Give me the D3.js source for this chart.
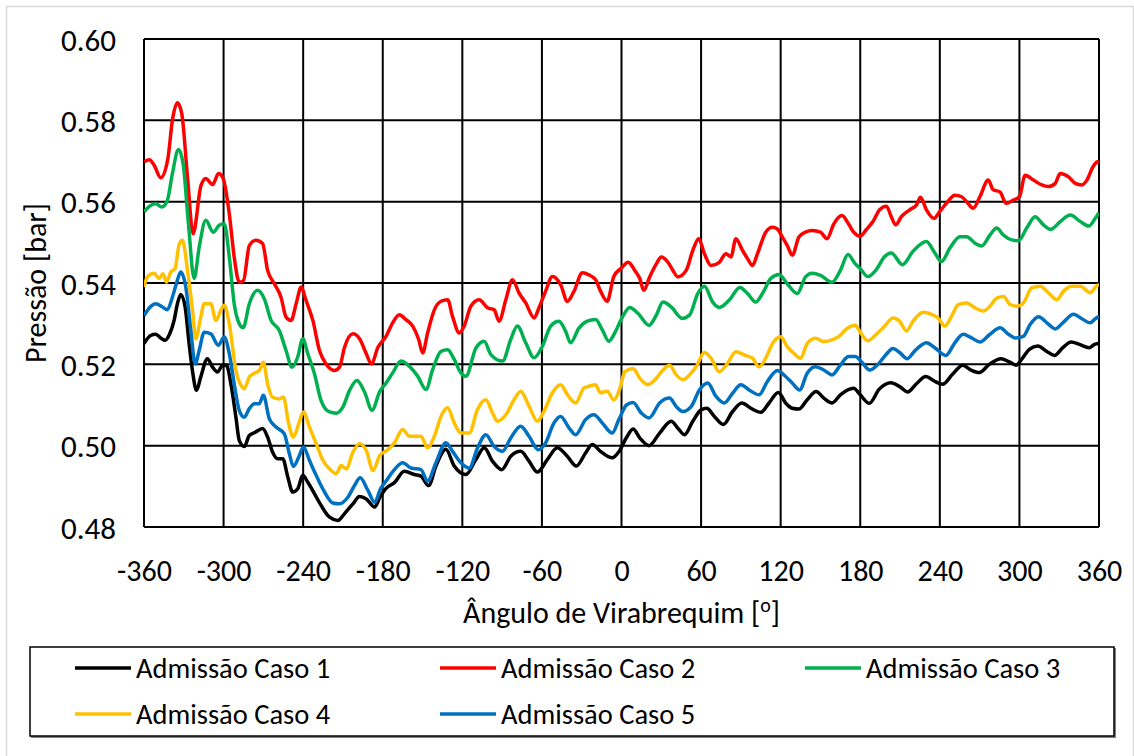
<!DOCTYPE html>
<html>
<head>
<meta charset="utf-8">
<script src="https://cdn.jsdelivr.net/npm/d3@7"></script>
<style>
  body { margin: 0; background: #fff; }
  text { font-family: Carlito, Lato, "Open Sans", sans-serif; fill: #000; }
</style>
</head>
<body>
<svg id="chart" width="1134" height="756"></svg>
<script>
// Axis ticks
const xTicks = [-360, -300, -240, -180, -120, -60, 0, 60, 120, 180, 240, 300, 360];
const yTicks = [0.48, 0.50, 0.52, 0.54, 0.56, 0.58, 0.60];

const seriesNames = ["Admissão Caso 1", "Admissão Caso 2", "Admissão Caso 3", "Admissão Caso 4", "Admissão Caso 5"];
const seriesColors = ["#000000", "#FF0000", "#00B050", "#FFC000", "#0070C0"];

// [crank angle (deg), pressure (bar)]
const caso1 = [[-360,0.5251],[-355,0.5271],[-351.2,0.5274],[-347.4,0.5265],[-344.1,0.5259],[-340.6,0.5275],[-337.3,0.5308],[-334.8,0.5349],[-332.3,0.5372],[-329,0.5341],[-326,0.5251],[-323.5,0.5185],[-320.4,0.5136],[-317.2,0.5169],[-312.2,0.5214],[-308.3,0.5193],[-304.6,0.5181],[-300.8,0.5197],[-297.8,0.5197],[-294.5,0.5152],[-290.7,0.507],[-288.2,0.5013],[-284.4,0.4998],[-280.6,0.5025],[-276.1,0.5033],[-270.6,0.5042],[-266.8,0.5021],[-263,0.4984],[-259.2,0.4968],[-255.4,0.4968],[-251.6,0.4923],[-247.9,0.4886],[-244.1,0.4894],[-240.3,0.4927],[-236.5,0.491],[-231.5,0.4882],[-226.5,0.4853],[-220.1,0.4824],[-213.8,0.4816],[-208.8,0.4833],[-202.5,0.4857],[-197.5,0.4875],[-192.4,0.4869],[-186.1,0.4849],[-182.3,0.4872],[-177.5,0.4895],[-171.2,0.4909],[-163.7,0.4937],[-156.2,0.4929],[-151.2,0.4925],[-145.4,0.4902],[-139.9,0.495],[-132.4,0.4991],[-126.1,0.495],[-117.3,0.4929],[-109.8,0.4966],[-103.5,0.4995],[-97.3,0.4962],[-90.2,0.4941],[-83.5,0.4974],[-76,0.4986],[-69.7,0.4962],[-63.4,0.4935],[-55.9,0.4966],[-48.4,0.4995],[-40.9,0.4974],[-34.1,0.495],[-27.1,0.4982],[-22.1,0.5003],[-15.8,0.4986],[-7,0.497],[-2,0.4985],[3.75,0.502],[8.75,0.5041],[13.75,0.5019],[20.75,0.5],[28.75,0.5031],[37.5,0.506],[42.5,0.5043],[47.5,0.5027],[53.75,0.506],[60,0.5088],[64.25,0.5092],[70,0.5072],[76.75,0.5052],[83.75,0.5084],[90.75,0.5105],[97.5,0.5092],[105,0.5082],[111.25,0.5105],[118.25,0.5131],[123.75,0.5105],[128.75,0.5092],[133.75,0.509],[140,0.5113],[146.75,0.5133],[152.5,0.5117],[158.75,0.5105],[165,0.5125],[175,0.5141],[180,0.5125],[186.8,0.5104],[194.3,0.5139],[203.1,0.5155],[210.7,0.5143],[215.7,0.5132],[222,0.5151],[229.5,0.517],[235.8,0.5159],[242.1,0.5151],[249.7,0.5176],[257.2,0.5198],[263.5,0.5186],[269.8,0.518],[277.3,0.52],[286.1,0.5214],[292.4,0.5206],[297.5,0.5198],[302.5,0.5216],[307.5,0.5237],[313.8,0.5245],[320.1,0.5233],[326.4,0.5222],[332.7,0.5241],[339,0.5255],[345.2,0.5249],[352.8,0.5241],[356.6,0.5249],[360,0.5252]];

const caso2 = [[-360,0.5698],[-356,0.5703],[-352.4,0.569],[-347.4,0.5659],[-342,0.5706],[-338.6,0.58],[-334.8,0.5843],[-331.5,0.5816],[-327.2,0.566],[-323,0.5521],[-317,0.564],[-313.4,0.5657],[-308.3,0.5642],[-303.8,0.5669],[-300.3,0.5657],[-295.7,0.557],[-292,0.5464],[-288.2,0.5402],[-285,0.5406],[-280.6,0.5492],[-275.6,0.5505],[-270.6,0.5497],[-266.8,0.5431],[-261.7,0.5398],[-256.7,0.5365],[-252.9,0.5316],[-249.1,0.5308],[-245.3,0.5349],[-241.5,0.539],[-237.8,0.5357],[-232.7,0.5308],[-227.7,0.5234],[-222.7,0.5201],[-216.4,0.5185],[-212.6,0.5193],[-208.8,0.5242],[-202.5,0.5275],[-197.5,0.5263],[-192.4,0.5226],[-188.6,0.5201],[-183.6,0.5242],[-177.5,0.5269],[-172.5,0.5302],[-167.5,0.5322],[-162.5,0.531],[-157.4,0.5294],[-152.9,0.5261],[-149.9,0.5228],[-146.2,0.5277],[-141.1,0.5334],[-136.1,0.5355],[-131.1,0.5359],[-127.4,0.5318],[-122.3,0.5277],[-118.6,0.5294],[-113.6,0.5343],[-107.3,0.5359],[-101,0.5339],[-96,0.5334],[-92.3,0.5306],[-87.2,0.5359],[-82.2,0.5408],[-77.2,0.5375],[-72.2,0.5351],[-65.9,0.5314],[-62.2,0.5339],[-57.2,0.538],[-52.1,0.5416],[-45.9,0.5396],[-40.8,0.5355],[-35.8,0.538],[-29.5,0.5425],[-24.6,0.542],[-19.5,0.5408],[-15.8,0.538],[-10.8,0.5355],[-5.8,0.5416],[0,0.5437],[5,0.5451],[10,0.5431],[13.75,0.5411],[16.75,0.5382],[21.25,0.5415],[26.25,0.5447],[30,0.5464],[35,0.5451],[38.75,0.5431],[42.5,0.5415],[48.75,0.5431],[53.75,0.548],[58.25,0.5509],[62.5,0.5472],[67.5,0.5443],[73.75,0.5451],[78.75,0.5472],[82.5,0.5464],[86.25,0.5509],[91.25,0.548],[95,0.546],[98.75,0.5443],[102.5,0.5472],[108.75,0.5525],[113.75,0.5537],[117.5,0.5533],[121.25,0.5513],[125,0.5492],[128.75,0.5468],[133.75,0.5513],[138.75,0.5525],[143.75,0.5529],[150,0.5525],[155,0.5509],[160,0.5545],[166.25,0.5566],[171.25,0.5545],[175,0.5525],[180,0.5515],[184.5,0.5531],[189.6,0.5551],[194.6,0.558],[199.7,0.5589],[203.4,0.5563],[206.7,0.5543],[211,0.5563],[217.3,0.558],[222.4,0.5592],[225.4,0.5611],[229.9,0.558],[235.5,0.5559],[240,0.5576],[245,0.5596],[251.3,0.5616],[256.4,0.5612],[260.2,0.56],[265.2,0.5584],[270.2,0.5612],[276.5,0.5653],[280.3,0.5629],[285.4,0.5624],[289.9,0.5596],[295.5,0.5604],[300,0.5612],[304.3,0.5665],[310.6,0.5653],[316.9,0.5641],[321.9,0.5637],[327,0.5645],[330.7,0.5669],[337,0.5661],[342.1,0.5645],[347.1,0.5641],[350.9,0.5653],[355.5,0.5686],[359,0.5698],[360,0.5694]];

const caso3 = [[-360,0.5575],[-356.2,0.5588],[-351.2,0.5595],[-346.6,0.5587],[-342.4,0.5603],[-338.6,0.5669],[-334,0.5728],[-330.5,0.5693],[-326.5,0.5546],[-322.2,0.5411],[-318.4,0.5488],[-313.4,0.5554],[-307.8,0.5525],[-303.3,0.5542],[-299.5,0.5546],[-295.7,0.5464],[-292,0.5349],[-288.2,0.53],[-285.2,0.529],[-280.6,0.5349],[-274.3,0.5382],[-269.3,0.5361],[-264.2,0.5308],[-258,0.5283],[-252.9,0.5234],[-248.4,0.5193],[-244.1,0.5218],[-240.3,0.5263],[-236.5,0.5226],[-231.5,0.5177],[-226.5,0.5111],[-220.1,0.5083],[-215.1,0.508],[-210.1,0.5095],[-205,0.5136],[-199.5,0.516],[-193.7,0.5132],[-188.1,0.5087],[-182.3,0.5133],[-177.5,0.5154],[-172.5,0.5179],[-166.2,0.5208],[-159.9,0.5195],[-153.7,0.5171],[-147.4,0.5138],[-142.4,0.5187],[-136.1,0.5232],[-131.1,0.5236],[-126.1,0.5212],[-121.1,0.5179],[-117.3,0.5171],[-109.8,0.524],[-103.5,0.5257],[-98.5,0.5224],[-89.7,0.5208],[-83.5,0.5261],[-78.5,0.5294],[-72.2,0.5253],[-65.9,0.5216],[-59.7,0.5244],[-53.4,0.5294],[-47.1,0.5306],[-42.1,0.5281],[-38.4,0.5253],[-32.1,0.5289],[-25.8,0.5306],[-19.6,0.531],[-14.5,0.5285],[-9.5,0.5257],[-4.5,0.5281],[0,0.5312],[6.25,0.534],[12.5,0.5325],[20.75,0.5296],[26.25,0.5321],[31.25,0.5353],[37.5,0.5341],[45.75,0.5313],[51.25,0.5321],[57.5,0.5374],[62.5,0.5392],[68.75,0.5353],[73.75,0.534],[81.25,0.5358],[89.25,0.5389],[95,0.5374],[101.25,0.5353],[106.25,0.5374],[112.5,0.5411],[118.75,0.5421],[125,0.5398],[132.5,0.5374],[138.75,0.5415],[143.75,0.5424],[150,0.5419],[158.75,0.5402],[165,0.5431],[170.75,0.547],[176.25,0.5447],[180,0.5435],[185.8,0.5416],[192.1,0.5433],[198.4,0.5465],[203.4,0.5474],[211.8,0.5445],[219.8,0.5478],[229.9,0.5502],[236.2,0.5474],[241.3,0.5453],[247.6,0.5486],[255.1,0.5514],[260.2,0.5514],[266.5,0.5498],[271.5,0.5491],[277.8,0.5518],[282.9,0.5535],[287.9,0.5518],[294.2,0.5506],[299.2,0.5504],[305.5,0.5535],[311.8,0.5563],[318.1,0.5543],[323.7,0.5532],[330.8,0.5551],[338.3,0.5567],[345.9,0.5551],[352.2,0.554],[357.2,0.5559],[360,0.5573]];

const caso4 = [[-360,0.539],[-357.5,0.5415],[-352.4,0.5424],[-348.7,0.5411],[-345.6,0.5423],[-343.1,0.5402],[-339.8,0.5427],[-336.6,0.5435],[-333.5,0.5495],[-331,0.5505],[-327.2,0.5431],[-323.4,0.5333],[-321,0.5263],[-317.2,0.5316],[-314.6,0.5349],[-309.6,0.5349],[-305.8,0.5308],[-302,0.5333],[-299.5,0.5345],[-295.7,0.53],[-290.7,0.5185],[-286.9,0.5148],[-284.4,0.514],[-280.6,0.5169],[-276.8,0.5178],[-273.1,0.5185],[-270,0.5205],[-266.8,0.5152],[-263,0.5119],[-258,0.5115],[-254.9,0.5119],[-250.9,0.5054],[-247.4,0.5021],[-243.3,0.5054],[-239.8,0.5083],[-235.3,0.5046],[-230.2,0.5005],[-225.2,0.4964],[-218.9,0.4939],[-215.1,0.4931],[-211.3,0.4951],[-207.5,0.4943],[-202.5,0.4984],[-197.5,0.5005],[-192.4,0.4988],[-187.4,0.4939],[-182.3,0.4975],[-176.2,0.499],[-171.2,0.5007],[-165,0.504],[-159.9,0.5023],[-154.9,0.5023],[-151.2,0.5023],[-146.2,0.4995],[-141.1,0.5023],[-136.1,0.5072],[-131.1,0.5093],[-126.1,0.5056],[-121.1,0.5031],[-114.8,0.5031],[-108.6,0.5089],[-102.3,0.5113],[-97.3,0.5081],[-93.5,0.506],[-87.2,0.5076],[-81,0.5113],[-76,0.5134],[-69.7,0.5097],[-63.4,0.506],[-58.4,0.5085],[-52.1,0.513],[-45.9,0.515],[-40.9,0.5126],[-34.6,0.5105],[-28.3,0.5142],[-24.6,0.5146],[-19.6,0.515],[-15.8,0.513],[-10.8,0.5134],[-5.8,0.5113],[-1,0.5143],[2.5,0.5182],[8.75,0.519],[13.75,0.5166],[20,0.515],[26.25,0.5166],[31.25,0.5186],[36.25,0.5198],[41.25,0.5174],[46.25,0.5162],[51.25,0.5174],[56.25,0.5194],[62.5,0.5229],[67.5,0.5215],[73.75,0.5182],[80,0.5203],[86.25,0.5231],[92.5,0.5223],[98.75,0.5215],[103.75,0.5194],[108.75,0.5215],[113.75,0.5251],[120,0.5268],[125,0.5243],[130,0.5227],[135,0.5215],[140,0.5251],[146.25,0.5264],[152.5,0.5256],[158.75,0.526],[163.75,0.5268],[170,0.5288],[176.25,0.5296],[180,0.5279],[185.8,0.5258],[192.1,0.5274],[198.4,0.5294],[204.7,0.5314],[209.7,0.5306],[214.8,0.5282],[219.8,0.5306],[227.4,0.5328],[233.7,0.5323],[238.7,0.5314],[243.8,0.5294],[248.8,0.5318],[253.9,0.5347],[260.2,0.5351],[266.5,0.5339],[272.8,0.5331],[277.8,0.5343],[282.9,0.5363],[287.9,0.5367],[293,0.5347],[298,0.5343],[303,0.5351],[309.3,0.5388],[315.6,0.5392],[321.9,0.5376],[328.2,0.5359],[333.3,0.538],[339.6,0.5392],[345.9,0.5392],[353.4,0.5376],[358.5,0.5394],[360,0.5396]];

const caso5 = [[-360,0.532],[-355,0.5342],[-351.2,0.5349],[-346.1,0.5341],[-342.4,0.5334],[-338.6,0.5365],[-335.6,0.5398],[-332.3,0.5427],[-328.5,0.539],[-324.7,0.5283],[-321.4,0.5201],[-318.4,0.5234],[-314.6,0.5279],[-309.6,0.5275],[-304,0.5247],[-299.5,0.5267],[-295.7,0.5226],[-292,0.5152],[-288.2,0.5087],[-284.4,0.507],[-280.6,0.5091],[-276.8,0.5103],[-273.1,0.5103],[-270,0.5124],[-265.5,0.5066],[-260.5,0.5046],[-254.2,0.5029],[-250.4,0.498],[-247.4,0.4949],[-243.3,0.4972],[-239.8,0.4997],[-235.3,0.4964],[-230.2,0.4927],[-223.9,0.4886],[-217.6,0.4859],[-212.6,0.4857],[-206.3,0.4873],[-201.3,0.4902],[-197,0.4921],[-191.2,0.489],[-186.1,0.4861],[-181.5,0.4895],[-177.5,0.4913],[-171.2,0.4941],[-165,0.4958],[-158.7,0.4945],[-151.2,0.4941],[-146.2,0.4913],[-139.9,0.4958],[-132.4,0.5007],[-127.4,0.4986],[-121.1,0.4958],[-114.8,0.4945],[-108.6,0.4994],[-102.3,0.5027],[-96,0.4998],[-89.7,0.4986],[-83.5,0.5019],[-76,0.5048],[-69.7,0.5023],[-62.7,0.499],[-57.2,0.5007],[-50.9,0.5056],[-45.9,0.5072],[-39.6,0.5044],[-34.6,0.5027],[-27.1,0.5064],[-20.8,0.5076],[-14.5,0.5056],[-7,0.5031],[-2,0.5064],[3.75,0.51],[8.75,0.5106],[15,0.508],[20.75,0.5068],[28.75,0.5105],[36.25,0.5117],[41.25,0.5096],[46.25,0.5084],[52.5,0.5096],[58.75,0.5137],[65,0.5154],[71.25,0.5121],[77.5,0.5105],[83.75,0.5129],[90,0.515],[96.25,0.5137],[103.75,0.5125],[110,0.5158],[117.5,0.5185],[123.75,0.517],[128.75,0.5154],[134.25,0.5137],[140,0.5178],[146.25,0.5194],[152.5,0.5186],[158.75,0.5174],[165,0.5198],[171.25,0.5219],[176.25,0.5219],[181.25,0.5205],[187.1,0.5186],[193.4,0.52],[199.7,0.5225],[204.7,0.5239],[209.7,0.5229],[215.5,0.5214],[221.1,0.5233],[229.9,0.5253],[236.2,0.5241],[244.5,0.5222],[251.3,0.5253],[257.6,0.5274],[263.9,0.5265],[270.3,0.5255],[277.8,0.5274],[285.4,0.529],[291.7,0.5274],[296.7,0.5265],[303,0.5269],[308.1,0.5298],[314.4,0.5317],[320.7,0.5302],[327,0.5287],[333.3,0.5304],[340.8,0.5323],[347.1,0.5312],[353.4,0.5302],[357.2,0.5312],[360,0.5318]];

const seriesData = [caso1, caso2, caso3, caso4, caso5];

const svg = d3.select("#chart");
const width = 1134, height = 756;
const plot = { left: 144, right: 1099, top: 39, bottom: 527 };

// Outer chart frame (light grey, like the Excel chart area)
svg.append("rect")
  .attr("x", 6.5).attr("y", 6.5)
  .attr("width", width - 7).attr("height", height - 5)
  .attr("fill", "#fff")
  .attr("stroke", "#D9D9D9")
  .attr("stroke-width", 1.5);

const x = d3.scaleLinear().domain([-360, 360]).range([plot.left, plot.right]);
const y = d3.scaleLinear().domain([0.48, 0.60]).range([plot.bottom, plot.top]);

// Grid lines
const grid = svg.append("g").attr("class", "grid");
grid.selectAll(".vgrid")
  .data(xTicks)
  .enter()
  .append("line")
  .attr("x1", (d) => x(d)).attr("x2", (d) => x(d))
  .attr("y1", plot.top).attr("y2", plot.bottom)
  .attr("stroke", "#000")
  .attr("stroke-width", 2);
grid.selectAll(".hgrid")
  .data(yTicks)
  .enter()
  .append("line")
  .attr("x1", plot.left).attr("x2", plot.right)
  .attr("y1", (d) => y(d)).attr("y2", (d) => y(d))
  .attr("stroke", "#000")
  .attr("stroke-width", 2);

// Axes (labels only, Excel style) - plain hyphen for negatives
const xAxis = svg.append("g")
  .attr("transform", "translate(0,581)")
  .call(d3.axisBottom(x).tickValues(xTicks).tickSize(0).tickFormat((d) => String(d)));
xAxis.select(".domain").remove();
xAxis.selectAll("text")
  .attr("y", 0)
  .attr("dy", 0)
  .style("font-size", "30px")
  .style("font-family", "Carlito, Lato, sans-serif")
  .attr("fill", "#000");

const yAxis = svg.append("g")
  .attr("transform", `translate(${plot.left - 28},0)`)
  .call(d3.axisLeft(y).tickValues(yTicks).tickSize(0).tickFormat(d3.format(".2f")));
yAxis.select(".domain").remove();
yAxis.selectAll("text")
  .attr("x", 0)
  .attr("dy", "0.36em")
  .style("font-size", "31px")
  .style("font-family", "Carlito, Lato, sans-serif")
  .attr("fill", "#000");

// Axis titles
svg.append("text")
  .attr("transform", `translate(46,${(plot.top + plot.bottom) / 2}) rotate(-90)`)
  .attr("text-anchor", "middle")
  .attr("font-size", "30px")
  .text("Pressão [bar]");

const xTitle = svg.append("text")
  .attr("x", (plot.left + plot.right) / 2)
  .attr("y", 623)
  .attr("text-anchor", "middle")
  .attr("font-size", "30px");
xTitle.append("tspan").text("Ângulo de Virabrequim [");
xTitle.append("tspan").attr("dy", -11).attr("font-size", "20px").text("o");
xTitle.append("tspan").attr("dy", 11).text("]");

// Series lines
const line = d3.line()
  .x((d) => x(d[0]))
  .y((d) => y(d[1]))
  .curve(d3.curveMonotoneX);

svg.append("defs").append("clipPath").attr("id", "plot-clip")
  .append("rect")
  .attr("x", plot.left).attr("y", plot.top - 5)
  .attr("width", plot.right - plot.left).attr("height", plot.bottom - plot.top + 5);

svg.append("g")
  .attr("clip-path", "url(#plot-clip)")
  .selectAll(".series")
  .data(seriesData)
  .enter()
  .append("path")
  .attr("class", "series")
  .attr("fill", "none")
  .attr("stroke", (d, i) => seriesColors[i])
  .attr("stroke-width", 3.5)
  .attr("stroke-linejoin", "round")
  .attr("d", line);

// Legend
const legend = svg.append("g").attr("class", "legend");
legend.append("rect")
  .attr("x", 31).attr("y", 648)
  .attr("width", 1085).attr("height", 90)
  .attr("fill", "#808080");
legend.append("rect")
  .attr("x", 30).attr("y", 647)
  .attr("width", 1084).attr("height", 89)
  .attr("fill", "#fff")
  .attr("stroke", "#000")
  .attr("stroke-width", 1.5);

const legendCols = [75, 440, 805];
const legendRows = [668, 714];
const item = legend.selectAll(".legend-item")
  .data(seriesNames)
  .enter()
  .append("g")
  .attr("class", "legend-item")
  .attr("transform", (d, i) => `translate(${legendCols[i % 3]},${legendRows[Math.floor(i / 3)]})`);
item.append("line")
  .attr("x1", 0).attr("x2", 56)
  .attr("y1", 0).attr("y2", 0)
  .attr("stroke", (d, i) => seriesColors[i])
  .attr("stroke-width", 3.5);
item.append("text")
  .attr("x", 61)
  .attr("dy", "0.35em")
  .attr("font-size", "28.5px")
  .text((d) => d);
</script>
</body>
</html>
